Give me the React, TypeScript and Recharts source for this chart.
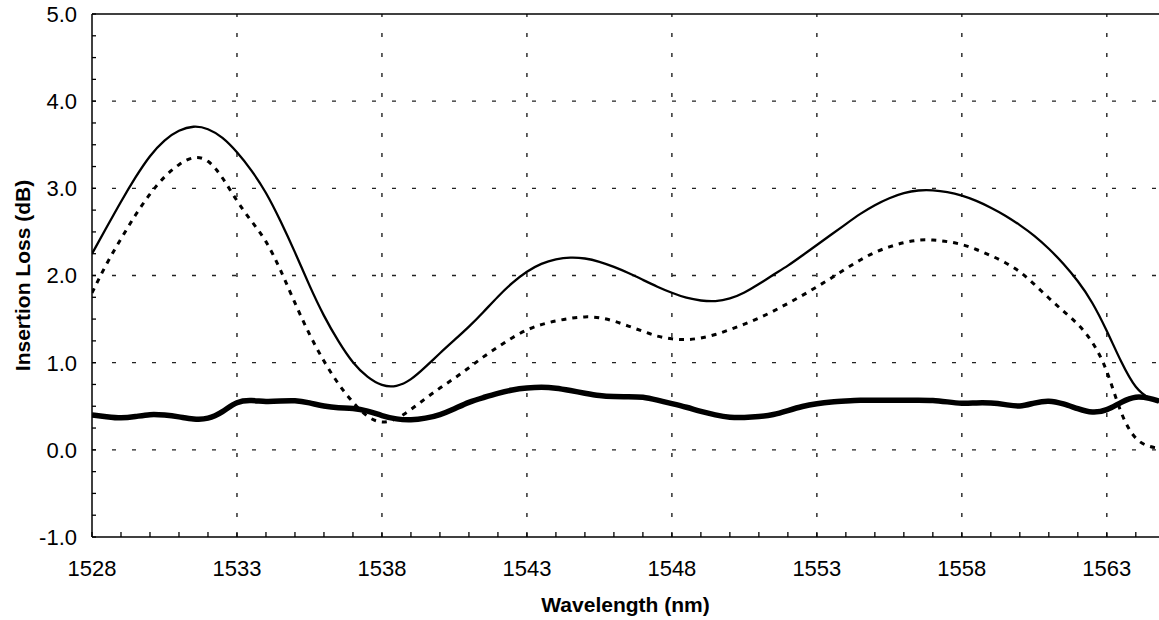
import { LineChart, Line, XAxis, YAxis, ReferenceLine } from "recharts";

const wavelengths = [
  1528, 1528.5, 1529, 1529.5, 1530, 1530.5, 1531, 1531.5, 1532, 1532.5,
  1533, 1533.5, 1534, 1534.5, 1535, 1535.5, 1536, 1536.5, 1537, 1537.5,
  1538, 1538.5, 1539, 1539.5, 1540, 1540.5, 1541, 1541.5, 1542, 1542.5,
  1543, 1543.5, 1544, 1544.5, 1545, 1545.5, 1546, 1546.5, 1547, 1547.5,
  1548, 1548.5, 1549, 1549.5, 1550, 1550.5, 1551, 1551.5, 1552, 1552.5,
  1553, 1553.5, 1554, 1554.5, 1555, 1555.5, 1556, 1556.5, 1557, 1557.5,
  1558, 1558.5, 1559, 1559.5, 1560, 1560.5, 1561, 1561.5, 1562, 1562.5,
  1563, 1563.5, 1564, 1564.5, 1564.8,
];

// thin solid curve
const solidLoss = [
  2.25, 2.55, 2.85, 3.13, 3.38, 3.56, 3.67, 3.72, 3.69, 3.59,
  3.42, 3.21, 2.96, 2.63, 2.27, 1.88, 1.53, 1.24, 0.99, 0.83,
  0.73, 0.72, 0.8, 0.95, 1.11, 1.26, 1.41, 1.58, 1.76, 1.92,
  2.05, 2.14, 2.19, 2.21, 2.2, 2.16, 2.1, 2.03, 1.95, 1.87,
  1.8, 1.74, 1.71, 1.7, 1.73, 1.8, 1.9, 2.01, 2.11, 2.23,
  2.35, 2.47, 2.59, 2.71, 2.81, 2.89, 2.95, 2.98, 2.98, 2.96,
  2.92, 2.86, 2.78, 2.69, 2.58, 2.46, 2.31, 2.14, 1.94, 1.7,
  1.37, 1.0, 0.69, 0.58, 0.55,
];

// dashed curve
const dashedLoss = [
  1.8, 2.14, 2.42, 2.7, 2.94, 3.14, 3.28, 3.37, 3.34, 3.13,
  2.85, 2.62, 2.41, 2.07, 1.68, 1.32, 1.01, 0.75, 0.54, 0.37,
  0.3, 0.35, 0.46, 0.59, 0.71, 0.82, 0.94, 1.07, 1.18, 1.29,
  1.38, 1.44, 1.48, 1.51, 1.53, 1.52, 1.48, 1.42, 1.36, 1.3,
  1.27, 1.26, 1.28, 1.32, 1.38, 1.44, 1.51, 1.59, 1.68, 1.77,
  1.87, 1.97, 2.08, 2.18, 2.27, 2.33, 2.38, 2.41, 2.41, 2.39,
  2.36, 2.3, 2.23, 2.15, 2.05, 1.9, 1.74, 1.59, 1.45, 1.25,
  0.94, 0.38, 0.1, 0.03, 0.02,
];

// thick solid curve
const thickLoss = [
  0.4, 0.38, 0.36, 0.38, 0.41, 0.4, 0.38, 0.35, 0.35, 0.43,
  0.56, 0.57, 0.55, 0.56, 0.57, 0.54, 0.5, 0.48, 0.48, 0.45,
  0.39, 0.35, 0.34, 0.36, 0.4, 0.47, 0.55, 0.6, 0.65, 0.69,
  0.71, 0.72, 0.71, 0.68, 0.65, 0.62, 0.61, 0.61, 0.61, 0.57,
  0.53, 0.49, 0.44, 0.4, 0.37, 0.37, 0.38, 0.4, 0.45, 0.5,
  0.53, 0.55, 0.56, 0.57, 0.57, 0.57, 0.57, 0.57, 0.57, 0.55,
  0.53, 0.54, 0.54, 0.52, 0.49, 0.54, 0.57, 0.53, 0.47, 0.42,
  0.45, 0.55, 0.62, 0.59, 0.56,
];

const xLabelTicks = [1528, 1533, 1538, 1543, 1548, 1553, 1558, 1563];
const xMinorTicks = [
  1528, 1529, 1530, 1531, 1532, 1533, 1534, 1535, 1536, 1537, 1538, 1539,
  1540, 1541, 1542, 1543, 1544, 1545, 1546, 1547, 1548, 1549, 1550, 1551,
  1552, 1553, 1554, 1555, 1556, 1557, 1558, 1559, 1560, 1561, 1562, 1563,
  1564,
];
const xGridValues = [1533, 1538, 1543, 1548, 1553, 1558, 1563];
const yMinorTicks = [
  -1, -0.75, -0.5, -0.25, 0, 0.25, 0.5, 0.75, 1, 1.25, 1.5, 1.75, 2, 2.25,
  2.5, 2.75, 3, 3.25, 3.5, 3.75, 4, 4.25, 4.5, 4.75, 5,
];
const yGridValues = [0, 1, 2, 3, 4];

const data = wavelengths.map((w, i) => ({
  w,
  solid: solidLoss[i],
  dashed: dashedLoss[i],
  thick: thickLoss[i],
}));

const FONT = '"Liberation Sans", Arial, Helvetica, sans-serif';
const X_TICK_GAP = 23;
const Y_TICK_GAP = 15;
const MINOR_LEN = 5;

function XTick(props: any) {
  const { x, y, payload } = props;
  const v = payload.value;
  const axisY = y - X_TICK_GAP;
  return (
    <g>
      <line x1={x} x2={x} y1={axisY} y2={axisY - MINOR_LEN} stroke="#000" strokeWidth={1.3} />
      {xLabelTicks.includes(v) && (
        <text x={x} y={y} dy="0.71em" textAnchor="middle" fontSize={22} fontFamily={FONT} fill="#000">
          {v}
        </text>
      )}
    </g>
  );
}

function YTick(props: any) {
  const { x, y, payload } = props;
  const v = payload.value;
  const axisX = x + Y_TICK_GAP;
  return (
    <g>
      <line x1={axisX} x2={axisX + 4} y1={y} y2={y} stroke="#000" strokeWidth={1.3} />
      {Number.isInteger(v) && (
        <text x={x} y={y} dy="0.36em" textAnchor="end" fontSize={22} fontFamily={FONT} fill="#000">
          {v.toFixed(1)}
        </text>
      )}
    </g>
  );
}

const gridStyle = { stroke: "#222", strokeWidth: 1.4, strokeDasharray: "4 16" };

export default function App() {
  return (
    <div
      style={{
        position: "absolute",
        left: 0,
        top: 0,
        width: 1159,
        height: 620,
        overflow: "hidden",
        background: "#fff",
      }}
    >
      <LineChart width={1159} height={620} data={data} margin={{ top: 14, right: 0, bottom: 0, left: 0 }}>
        <XAxis
          dataKey="w"
          type="number"
          domain={[1528, 1564.8]}
          allowDataOverflow
          ticks={xMinorTicks}
          interval={0}
          tick={<XTick />}
          tickLine={false}
          tickSize={0}
          tickMargin={X_TICK_GAP}
          height={83}
          axisLine={{ stroke: "#000", strokeWidth: 1.5 }}
          label={{
            value: "Wavelength (nm)",
            position: "insideBottom",
            offset: 8,
            style: { fontWeight: "bold", fontSize: 21, fontFamily: FONT, fill: "#000" },
          }}
        />
        <YAxis
          type="number"
          domain={[-1, 5]}
          allowDataOverflow
          ticks={yMinorTicks}
          interval={0}
          tick={<YTick />}
          tickLine={false}
          tickSize={0}
          tickMargin={Y_TICK_GAP}
          width={92}
          axisLine={{ stroke: "#000", strokeWidth: 1.5 }}
          label={{
            value: "Insertion Loss (dB)",
            angle: -90,
            position: "insideLeft",
            offset: 23,
            style: { textAnchor: "middle", fontWeight: "bold", fontSize: 21, fontFamily: FONT, fill: "#000" },
          }}
        />
        {xGridValues.map((v) => (
          <ReferenceLine key={`vx-${v}`} x={v} {...gridStyle} />
        ))}
        {yGridValues.map((v) => (
          <ReferenceLine key={`hy-${v}`} y={v} {...gridStyle} />
        ))}
        <ReferenceLine y={5} stroke="#000" strokeWidth={1.5} />
        <Line
          type="basis"
          dataKey="solid"
          stroke="#000"
          strokeWidth={2.3}
          dot={false}
          isAnimationActive={false}
        />
        <Line
          type="basis"
          dataKey="dashed"
          stroke="#000"
          strokeWidth={3}
          strokeDasharray="5 6"
          dot={false}
          isAnimationActive={false}
        />
        <Line
          type="basis"
          dataKey="thick"
          stroke="#000"
          strokeWidth={5.5}
          dot={false}
          isAnimationActive={false}
        />
      </LineChart>
    </div>
  );
}
